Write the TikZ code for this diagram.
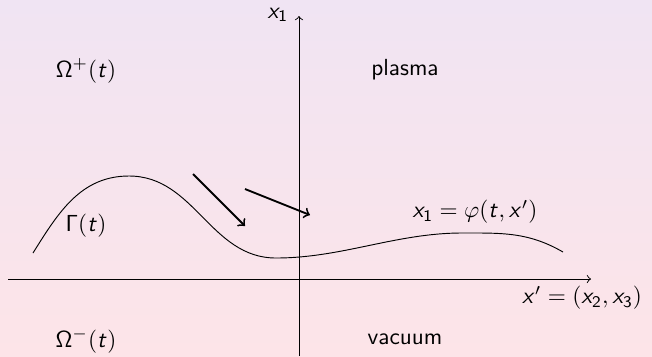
\documentclass[tikz,border=0pt]{standalone}
\usepackage{amsmath}
\DeclareMathAlphabet{\mathsfit}{OT1}{cmss}{m}{sl}
\usetikzlibrary{arrows}
\definecolor{bgtop}{RGB}{240,228,243}
\definecolor{bgbot}{RGB}{253,228,232}
\tikzset{
  lbl/.style={inner sep=0pt, font=\sffamily},
  axis/.style={line width=0.4pt, ->},
  flow/.style={thick, ->},
}
\begin{document}
\begin{tikzpicture}[x=0.43pt, y=-0.43pt]
\shade[top color=bgtop, bottom color=bgbot] (0,0) rectangle (652,356);
\useasboundingbox (0,0) rectangle (652,356);
% axes
\coordinate (vb) at (299,356);
\coordinate (vt) at (299,16);
\coordinate (hl) at (8,279);
\coordinate (hr) at (591,279);
\draw[axis] (vb) -- (vt);
\draw[axis] (hl) -- (hr);
% interface curve
\coordinate (c0) at (33,253);
\coordinate (c1) at (129,176);
\coordinate (c2) at (276,258);
\coordinate (c3) at (462,233);
\coordinate (c4) at (563,252);
\draw[line width=0.4pt] (c0) to[out=58,in=180] (c1) to[out=0,in=180] (c2)
  to[out=0,in=180,looseness=0.9] (c3) to[out=0,in=150] (c4);
% flow arrows
\coordinate (a1s) at (193,174);
\coordinate (a1e) at (245,226);
\coordinate (a2s) at (245,189);
\coordinate (a2e) at (310,215);
\draw[flow] (a1s) -- (a1e);
\draw[flow] (a2s) -- (a2e);
% labels
\node[lbl] (lx1) at (278,15) {$\mathsfit{x}_{\mathsf{1}}$};
\node[lbl] (lop) at (86,71) {$\mathsf{\Omega}^{+}(\mathsfit{t})$};
\node[lbl] (lpl) at (405,70) {plasma};
\node[lbl] (lga) at (86,226) {$\mathsf{\Gamma}(\mathsfit{t})$};
\node[lbl] (lph) at (475,212) {$\mathsfit{x}_{\mathsf{1}}=\varphi(\mathsfit{t},\mathsfit{x}')$};
\node[lbl] (lxp) at (582,298) {$\mathsfit{x}'=(\mathsfit{x}_{\mathsf{2}},\mathsfit{x}_{\mathsf{3}})$};
\node[lbl] (lom) at (86,341) {$\mathsf{\Omega}^{-}(\mathsfit{t})$};
\node[lbl] (lva) at (405,339) {vacuum};
\end{tikzpicture}
\end{document}
